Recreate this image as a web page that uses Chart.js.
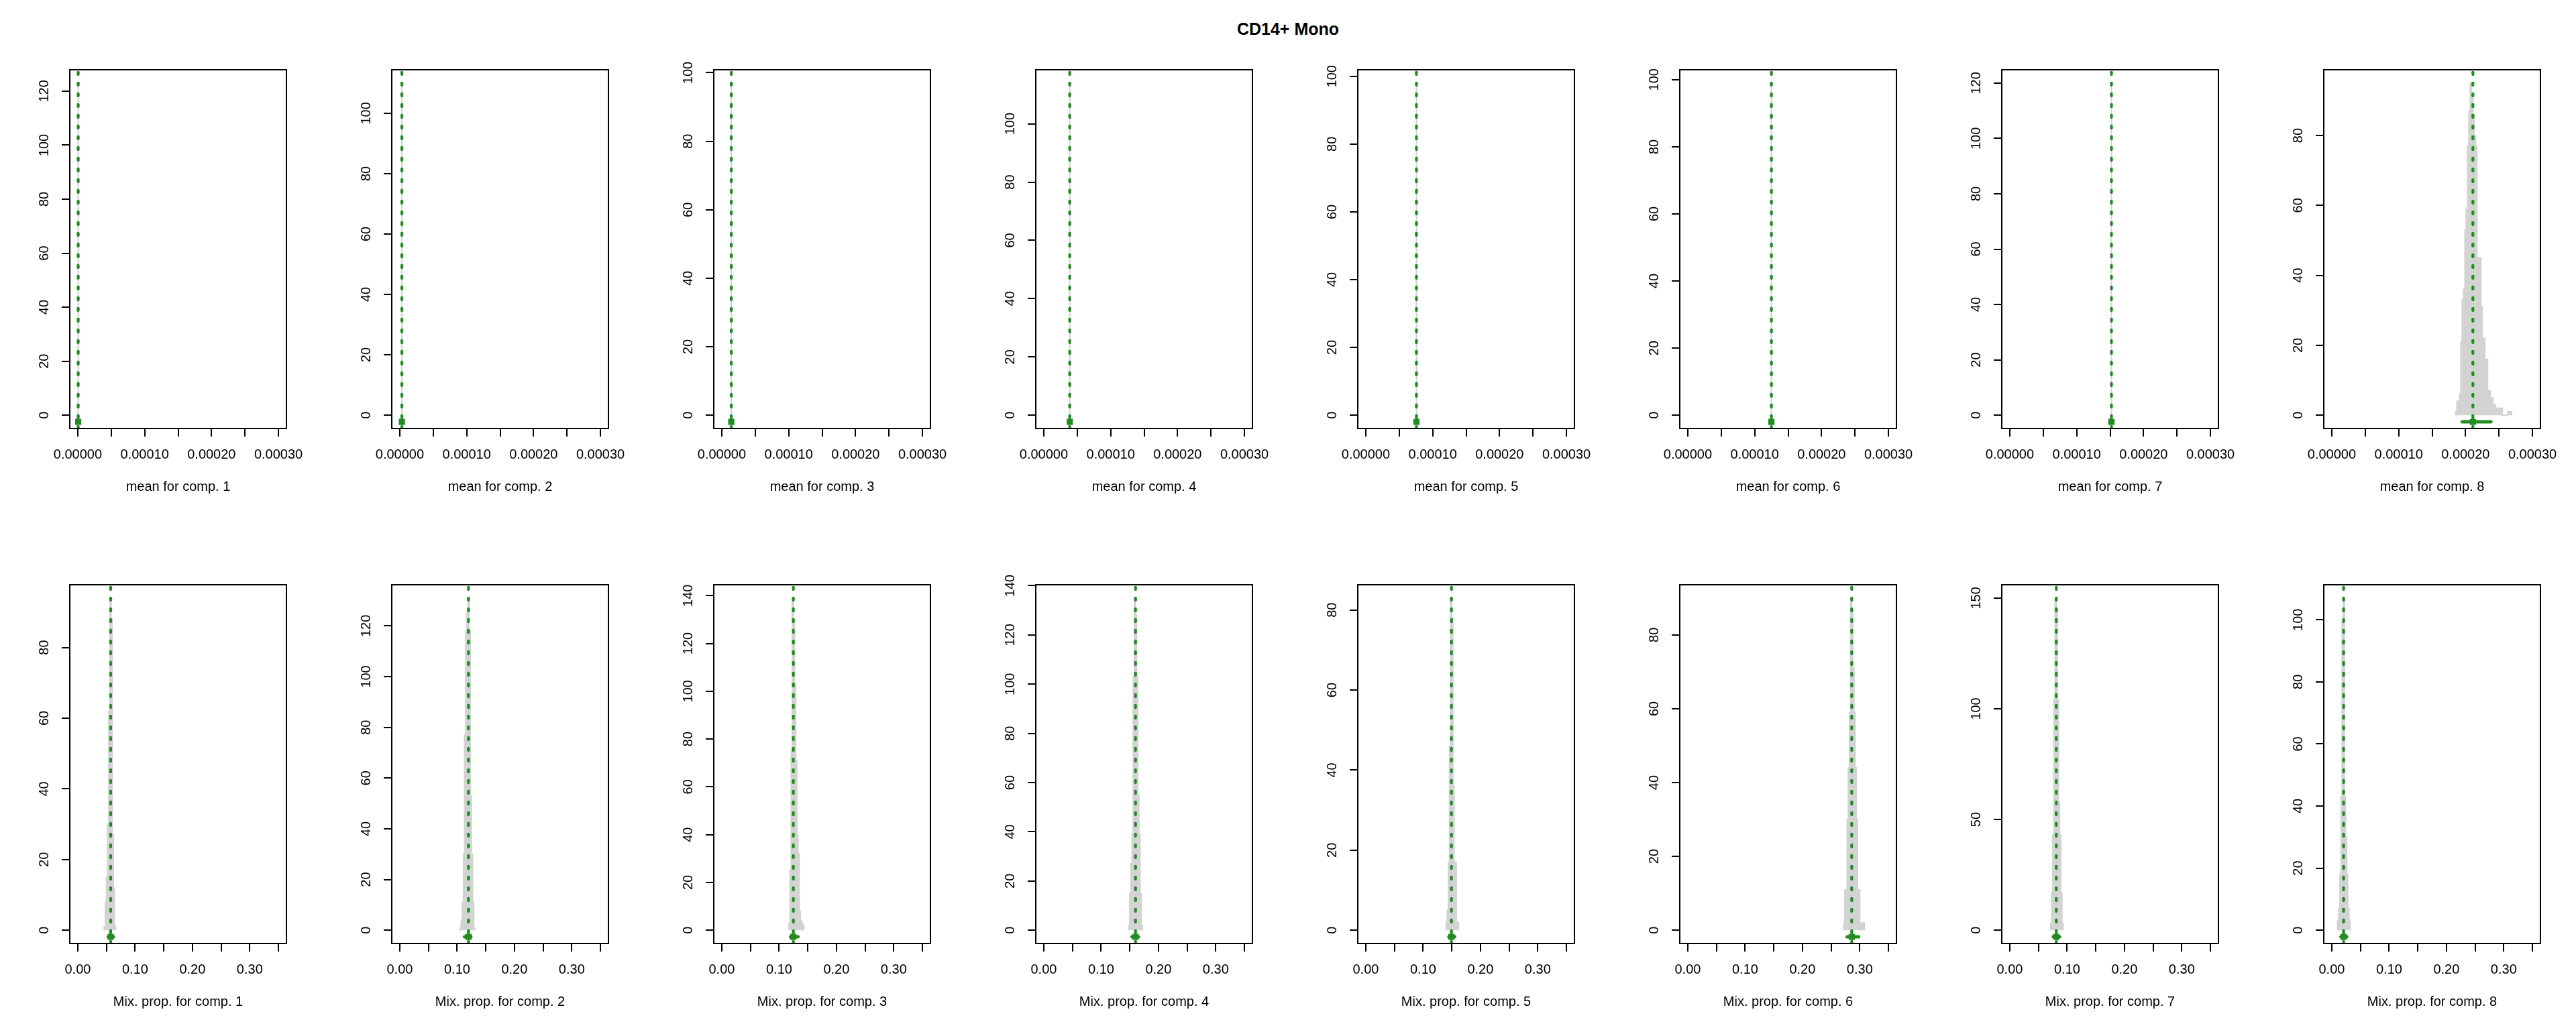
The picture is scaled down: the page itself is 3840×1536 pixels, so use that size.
<!DOCTYPE html>
<html>
<head>
<meta charset="utf-8">
<script src="https://cdn.jsdelivr.net/npm/chart.js@4.4.1/dist/chart.umd.min.js"></script>
<style>
  html, body { margin: 0; padding: 0; background: #ffffff; }
  #wrap { position: relative; width: 3840px; height: 1536px; background: #ffffff; overflow: hidden; }
  #wrap canvas { position: absolute; }
  #mainTitle { position: absolute; left: 0; top: 28px; width: 3840px; text-align: center;
    font: bold 25px "Liberation Sans", Arial, sans-serif; line-height: 30px; color: #000; }
</style>
</head>
<body>
<div id="wrap"><div id="mainTitle"></div></div>
<script>
// ---------------- data ----------------
const mainTitle = 'CD14+ Mono';
const compNumbers = [1, 2, 3, 4, 5, 6, 7, 8];

// top row: posterior of component means
const meanXLim = [0, 0.0003];
const meanXTicks = [0, 0.00005, 0.0001, 0.00015, 0.0002, 0.00025, 0.0003];
const meanXTickLabels = ['0.00000', '', '0.00010', '', '0.00020', '', '0.00030'];
const meanEstimates = [0.0000006, 0.0000031, 0.0000142, 0.0000388, 0.0000757, 0.000125, 0.000152, 0.000211];
const meanCILow  = [0.0000004, 0.0000029, 0.0000139, 0.0000385, 0.0000752, 0.0001245, 0.0001515, 0.000195];
const meanCIHigh = [0.0000008, 0.0000033, 0.0000145, 0.0000391, 0.0000762, 0.0001255, 0.0001525, 0.000238];
const meanHistStart = [0.00000056, 0.00000306, 0.00001416, 0.00003876, 0.00007566, 0.00012496, 0.00015196, 0.000185];
const meanHistWidth = [0.00000002, 0.00000002, 0.00000002, 0.00000002, 0.00000002, 0.00000002, 0.00000002, 0.000002];
const meanHistCounts = [
  [15, 123, 64, 8],
  [12, 110, 58, 6],
  [18, 97, 71, 9],
  [9, 114, 66, 11],
  [14, 98, 77, 6],
  [11, 99, 83, 10],
  [16, 120, 61, 7],
  [1, 4, 4, 6, 21, 33, 36, 53, 59, 77, 87, 95, 92, 86, 80, 77, 43, 45, 45, 31, 22, 22,
   16, 16, 7, 7, 5, 5, 3, 3, 2, 2, 2, 2, 2, 0, 0, 0, 0, 1, 1, 1]
];
const meanYTickStep = [20, 20, 20, 20, 20, 20, 20, 20];

// bottom row: posterior of mixture proportions
const propXLim = [0, 0.35];
const propXTicks = [0, 0.05, 0.1, 0.15, 0.2, 0.25, 0.3, 0.35];
const propXTickLabels = ['0.00', '', '0.10', '', '0.20', '', '0.30', ''];
const propEstimates = [0.0574, 0.1198, 0.1248, 0.160, 0.1494, 0.286, 0.0811, 0.0206];
const propCILow  = [0.053, 0.113, 0.120, 0.154, 0.145, 0.278, 0.076, 0.016];
const propCIHigh = [0.062, 0.124, 0.133, 0.165, 0.155, 0.298, 0.087, 0.026];
const propHistStart = [0.046, 0.105, 0.117, 0.148, 0.140, 0.272, 0.071, 0.010];
const propHistWidth = [0.002, 0.002, 0.002, 0.002, 0.002, 0.002, 0.002, 0.002];
const propHistCounts = [
  [1, 8, 15, 30, 62, 94, 88, 27, 12, 1],
  [1, 4, 11, 30, 77, 118, 125, 131, 118, 53, 30, 11, 1],
  [3, 25, 75, 139, 130, 103, 71, 40, 32, 8, 4, 3, 2],
  [2, 15, 27, 39, 103, 135, 128, 103, 55, 39, 15, 2],
  [2, 5, 17, 46, 83, 78, 36, 17, 17, 2, 2],
  [2, 11, 11, 30, 44, 59, 90, 87, 71, 59, 44, 30, 11, 11, 2, 2, 2, 2],
  [3, 17, 43, 104, 150, 145, 104, 58, 43, 17, 3],
  [3, 7, 18, 43, 99, 107, 43, 30, 18, 7, 3]
];
const propYTickStep = [20, 20, 20, 20, 20, 20, 50, 20];

// ---------------- layout / style ----------------
const CELL_W = 480, CELL_H = 768;
const BOX_LEFT = 104, BOX_RIGHT = 427, BOX_TOP = 104, BOX_H = 535;
const FONT = '"Liberation Sans", Arial, sans-serif';
const GREY = '#d3d3d3';
const GREEN = '#228b22';

document.getElementById('mainTitle').textContent = mainTitle;
Chart.defaults.font.family = FONT;

const measureCtx = document.createElement('canvas').getContext('2d');
measureCtx.font = '20px "Liberation Sans"';

const boxPlugin = {
  id: 'plotBox',
  afterDatasetsDraw(chart) {
    const a = chart.chartArea, ctx = chart.ctx;
    ctx.save();
    ctx.strokeStyle = '#000';
    ctx.lineWidth = 2;
    ctx.strokeRect(a.left, a.top, a.right - a.left, a.bottom - a.top);
    ctx.restore();
  }
};

function makePanel(row, k, d) {
  const wrap = document.getElementById('wrap');
  const canvas = document.createElement('canvas');
  canvas.width = CELL_W; canvas.height = CELL_H;
  canvas.style.width = CELL_W + 'px'; canvas.style.height = CELL_H + 'px';
  canvas.style.left = (k * CELL_W) + 'px';
  canvas.style.top = (row * CELL_H) + 'px';
  wrap.appendChild(canvas);

  const peak = Math.max(...d.counts);
  const yMin = -0.04 * peak, yMax = 1.04 * peak;
  const xSpan = d.xLim[1] - d.xLim[0];
  const xMin = d.xLim[0] - 0.04 * xSpan, xMax = d.xLim[1] + 0.04 * xSpan;
  const yPt = -0.02 * peak;

  const hist = [{ x: d.start, y: 0 }];
  d.counts.forEach((c, j) => hist.push({ x: d.start + j * d.width, y: c }));
  hist.push({ x: d.start + d.counts.length * d.width, y: 0 });

  const yTicks = [];
  for (let v = 0; v <= yMax; v += d.yStep) yTicks.push(v);
  const widest = Math.max(...yTicks.map(v => measureCtx.measureText(String(v)).width));
  const yPad = 25.1 - widest / 2;

  const axisGrid = {
    drawOnChartArea: false, drawTicks: true, tickLength: 12,
    color: '#000', tickColor: '#000', lineWidth: 2, tickWidth: 2
  };

  new Chart(canvas, {
    type: 'line',
    data: {
      datasets: [
        { data: hist, stepped: 'before', fill: 'origin', backgroundColor: GREY,
          borderColor: GREY, borderWidth: 2, pointRadius: 0, order: 4 },
        { data: [{ x: d.est, y: yMin }, { x: d.est, y: yMax }], borderColor: GREEN,
          borderWidth: 4.3, borderDash: [3.2, 12.8], borderCapStyle: 'round',
          pointRadius: 0, fill: false, clip: 0, order: 3 },
        { data: [{ x: d.lo, y: yPt }, { x: d.hi, y: yPt }], borderColor: GREEN,
          borderWidth: 5, borderCapStyle: 'round', pointRadius: 0, fill: false, order: 2 },
        { data: [{ x: d.est, y: yPt }], showLine: false, pointStyle: 'rect', pointRadius: 6.5,
          pointBackgroundColor: GREEN, pointBorderColor: GREEN, pointBorderWidth: 0, order: 1 }
      ]
    },
    options: {
      responsive: false, animation: false, devicePixelRatio: 1,
      layout: { padding: { top: BOX_TOP, right: CELL_W - BOX_RIGHT, left: 0, bottom: 0 } },
      plugins: { legend: { display: false }, tooltip: { enabled: false }, title: { display: false } },
      scales: {
        x: {
          type: 'linear', position: 'bottom', min: xMin, max: xMax,
          afterBuildTicks: s => { s.ticks = d.xTicks.map(v => ({ value: v })); },
          afterFit: s => { s.height = CELL_H - BOX_TOP - BOX_H; },
          ticks: { autoSkip: false, maxRotation: 0, minRotation: 0, padding: 15, color: '#000',
            font: { family: FONT, size: 20 }, callback: (v, i) => d.xTickLabels[i] },
          grid: axisGrid,
          border: { display: false },
          title: { display: true, text: d.xTitle, color: '#000', font: { family: FONT, size: 20 },
            padding: { top: 0, bottom: 30 } }
        },
        y: {
          type: 'linear', position: 'left', min: yMin, max: yMax,
          afterBuildTicks: s => { s.ticks = yTicks.map(v => ({ value: v })); },
          afterFit: s => { s.width = BOX_LEFT; },
          ticks: { autoSkip: false, minRotation: 90, maxRotation: 90, crossAlign: 'center',
            padding: yPad, color: '#000', font: { family: FONT, size: 20 },
            callback: v => String(v) },
          grid: axisGrid,
          border: { display: false }
        }
      }
    },
    plugins: [boxPlugin]
  });
}

compNumbers.forEach((n, k) => {
  makePanel(0, k, {
    xLim: meanXLim, xTicks: meanXTicks, xTickLabels: meanXTickLabels,
    est: meanEstimates[k], lo: meanCILow[k], hi: meanCIHigh[k],
    start: meanHistStart[k], width: meanHistWidth[k], counts: meanHistCounts[k],
    yStep: meanYTickStep[k], xTitle: 'mean for comp. ' + n
  });
  makePanel(1, k, {
    xLim: propXLim, xTicks: propXTicks, xTickLabels: propXTickLabels,
    est: propEstimates[k], lo: propCILow[k], hi: propCIHigh[k],
    start: propHistStart[k], width: propHistWidth[k], counts: propHistCounts[k],
    yStep: propYTickStep[k], xTitle: 'Mix. prop. for comp. ' + n
  });
});
</script>
</body>
</html>
